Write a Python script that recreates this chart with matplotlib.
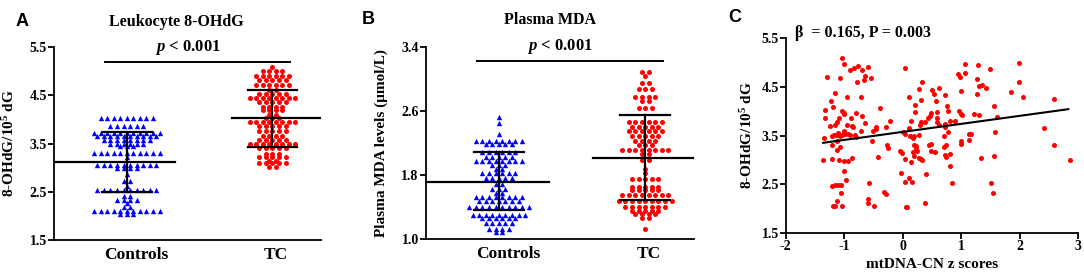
import matplotlib.pyplot as plt
import numpy as np

plt.rcParams['font.family'] = 'Liberation Serif'
plt.rcParams['font.weight'] = 'bold'
plt.rcParams['axes.labelweight'] = 'bold'
plt.rcParams['mathtext.fontset'] = 'custom'
plt.rcParams['mathtext.rm'] = 'Liberation Serif:bold'
plt.rcParams['mathtext.bf'] = 'Liberation Serif:bold'
plt.rcParams['mathtext.it'] = 'Liberation Serif:bold:italic'
plt.rcParams['mathtext.default'] = 'bf'
plt.rcParams['axes.unicode_minus'] = False

groups = ['Controls', 'TC']

# Panel A: leukocyte 8-OHdG, rows of the dot plot (value, count)
a_ctrl_vals = [4.02, 3.86, 3.71, 3.66, 3.57, 3.50, 3.45, 3.30, 3.23, 3.05, 2.99, 2.87,
               2.73, 2.62, 2.54, 2.41, 2.33, 2.27, 2.18, 2.11, 2.04]
a_ctrl_cnts = [9, 6, 11, 10, 8, 6, 3, 11, 1, 10, 4, 1, 2, 1, 10, 2, 4, 1, 2, 11, 3]
a_tc_vals = [5.09, 5.00, 4.89, 4.81, 4.71, 4.60, 4.53, 4.45, 4.36, 4.26, 4.19, 4.09, 4.02,
             3.95, 3.86, 3.76, 3.65, 3.57, 3.49, 3.40, 3.29, 3.22, 3.14, 3.09, 3.02]
a_tc_cnts = [1, 4, 6, 5, 6, 2, 5, 8, 5, 4, 4, 2, 3, 8, 5, 5, 4, 5, 8, 5, 3, 5, 2, 5, 2]
a_mean = [3.12, 4.02]
a_sd_lo = [2.50, 3.42]
a_sd_hi = [3.745, 4.61]

# Panel B: plasma MDA
b_ctrl_vals = [2.52, 2.45, 2.31, 2.23, 2.19, 2.09, 2.03, 1.97, 1.92, 1.88, 1.82, 1.76,
               1.69, 1.63, 1.57, 1.52, 1.48, 1.40, 1.30, 1.26, 1.20, 1.13, 1.09]
b_ctrl_cnts = [1, 1, 1, 8, 5, 6, 5, 8, 3, 2, 6, 5, 2, 3, 2, 8, 7, 10, 9, 6, 5, 4, 2]
b_tc_vals = [3.09, 3.04, 2.945, 2.875, 2.78, 2.72, 2.64, 2.46, 2.40, 2.35, 2.29, 2.225,
             2.17, 2.11, 2.06, 1.99, 1.88, 1.83, 1.75, 1.655, 1.61, 1.55, 1.47, 1.40,
             1.35, 1.31, 1.26, 1.125]
b_tc_cnts = [2, 1, 2, 3, 4, 2, 3, 6, 5, 6, 5, 4, 3, 8, 2, 2, 1, 1, 5, 5, 5, 8, 9, 7, 5, 4, 2, 1]
b_mean = [1.717, 2.017]
b_sd_lo = [1.36, 1.49]
b_sd_hi = [2.09, 2.55]

# Panel C: mtDNA-CN z scores vs 8-OHdG
c_x = [-1.04, -1.00, -1.30, -1.07, -0.90, -0.83, -0.76, -0.69, -0.59, -0.645, -0.657, -0.54,
       -0.78, -0.95, -0.71, -1.16, -1.23, -1.19, -1.32, -1.32, -1.24, -1.16, -1.13, -1.09,
       -1.03, -1.00, -1.01, -0.95, -0.885, -0.805, -0.69, -0.645, -0.87, -0.845, -0.90, -0.82,
       -0.79, -0.71, -1.34, -1.215, -1.17, -1.13, -1.10, -1.08, -1.03, -0.99, -1.00, -0.93,
       -1.13, -1.20, -1.12, -1.07, -1.37, -1.215, -1.09, -1.01, -0.94, -0.86, -1.01, -0.975,
       -1.20, -1.15, -1.10, -1.055, -1.055, -1.19, -1.16, -1.13, -1.04, -0.58, -0.59, -0.60,
       -0.49, -0.315, -0.29, -0.395, -0.45, -0.46, -0.50, -0.52, -0.43, -0.28, -0.21, -0.27,
       -0.25, -0.05, -0.02, 0.04, -0.03, 0.04, 0.11, 0.16, 0.05, 0.07, 0.044, 0.11,
       0.21, 0.21, 0.15, 0.17, 0.20, 0.13, 0.04, 0.01, 0.11, 0.20, 0.23, 0.24,
       0.22, 0.17, 0.19, 0.27, 0.31, 0.33, 0.15, 0.31, 0.29, 0.33, 0.28, 0.31,
       0.38, 0.44, 0.47, 0.49, 0.505, 0.53, 0.45, 0.48, 0.49, 0.40, 0.38, 0.28,
       1.06, 1.28, 1.49, 1.99, 0.94, 0.98, 1.06, 1.27, 1.31, 1.35, 1.42, 1.27,
       0.995, 0.72, 0.62, 0.57, 0.76, 0.77, 0.97, 0.995, 1.02, 0.89, 0.81, 0.72,
       0.58, 0.59, 0.58, 0.625, 0.72, 1.21, 1.30, 1.56, 1.61, 1.85, 1.99, 2.06,
       2.58, 2.41, 2.58, 2.86, 1.58, 1.13, 1.17, 1.13, 0.995, 0.995, 0.78, 0.70,
       0.74, 0.70, 0.55, 0.72, 0.74, 0.81, 0.81, 1.33, 1.56, 0.85, 1.51, 1.54]
c_y = [5.09, 4.97, 4.71, 4.67, 4.84, 4.88, 4.93, 4.84, 4.90, 4.73, 4.63, 4.67,
       4.59, 4.30, 4.28, 4.38, 4.21, 4.09, 4.03, 3.86, 3.70, 3.72, 3.77, 3.85,
       4.01, 3.94, 3.97, 3.71, 3.85, 3.96, 3.89, 3.75, 3.70, 3.67, 3.52, 3.52,
       3.47, 3.60, 3.44, 3.48, 3.51, 3.52, 3.55, 3.48, 3.52, 3.53, 3.60, 3.53,
       3.38, 3.30, 3.20, 3.27, 3.00, 3.02, 3.00, 2.98, 2.97, 3.03, 2.78, 2.59,
       2.46, 2.49, 2.49, 2.49, 2.33, 2.06, 2.05, 2.15, 2.06, 2.52, 2.20, 2.11,
       2.05, 2.35, 2.31, 4.06, 3.67, 3.64, 3.60, 3.38, 3.05, 3.67, 3.79, 3.31,
       3.24, 3.19, 3.14, 3.02, 2.73, 2.55, 2.63, 2.55, 2.03, 2.03, 4.88, 4.30,
       4.12, 3.99, 3.79, 3.45, 3.50, 3.50, 3.53, 3.57, 3.65, 3.31, 3.28, 3.19,
       3.23, 3.17, 3.07, 3.04, 3.02, 3.00, 2.96, 3.78, 3.72, 4.59, 4.46, 4.23,
       3.78, 3.86, 3.91, 3.96, 4.43, 4.36, 3.31, 3.19, 3.33, 2.72, 2.12, 3.52,
       4.97, 4.94, 4.86, 4.98, 4.76, 4.71, 4.78, 4.66, 4.515, 4.54, 4.47, 4.35,
       4.41, 4.34, 4.47, 4.21, 4.10, 3.995, 3.995, 3.95, 3.93, 3.80, 3.80, 3.74,
       3.98, 3.86, 3.78, 3.72, 3.67, 3.94, 3.93, 4.10, 3.87, 4.40, 4.59, 4.29,
       4.255, 3.66, 3.31, 3.00, 3.57, 3.54, 3.53, 3.41, 3.39, 3.33, 3.57, 3.48,
       3.31, 3.27, 3.16, 3.11, 3.06, 3.13, 2.87, 3.04, 3.07, 2.52, 2.53, 2.32]
c_fit_x = [-1.36, 2.83]
c_fit_y = [3.35, 4.04]


def swarm(vals, center, dx=0.045):
    # spread points of the same row sideways, centred on the group
    vals = np.asarray(vals)
    xs = np.empty(len(vals))
    for v in np.unique(vals):
        idx = np.where(vals == v)[0]
        n = len(idx)
        xs[idx] = center + (np.arange(n) - (n - 1) / 2) * dx
    return xs


def style_axes(ax):
    for s in ['top', 'right']:
        ax.spines[s].set_visible(False)
    for s in ['left', 'bottom']:
        ax.spines[s].set_linewidth(1.3)
    ax.tick_params(axis='y', direction='out', length=4, width=1.3, labelsize=10, pad=1)


def dot_panel(ax, ctrl, tc, mean, lo, hi, ylim, yticks, ylabel, bracket_y, mean_in):
    ax.scatter(swarm(ctrl, 0), ctrl, marker='^', s=15, color='#0000ff', lw=0, zorder=2)
    ax.scatter(swarm(tc, 1), tc, marker='o', s=13, color='#ff0000', lw=0, zorder=2)
    ax.plot([-0.5, mean_in[0]], [mean[0]] * 2, color='k', lw=1.6, zorder=3)
    ax.plot([mean_in[1], 1.333], [mean[1]] * 2, color='k', lw=1.6, zorder=3)
    for i in range(2):
        ax.plot([i, i], [lo[i], hi[i]], color='k', lw=1.6, zorder=3)
        for yv in (lo[i], hi[i]):
            ax.plot([i - 0.17, i + 0.17], [yv, yv], color='k', lw=1.6, zorder=3)
    ax.plot([-0.15, 1.12], [bracket_y, bracket_y], color='k', lw=1.4, clip_on=False)
    ax.text(0.42, bracket_y + (ylim[1] - ylim[0]) * 0.025, r'$\mathit{p}$ < 0.001', ha='center',
            va='bottom', fontsize=12, fontweight='bold')
    ax.set_xlim(-0.5, 1.333)
    ax.set_ylim(*ylim)
    ax.set_yticks(yticks)
    ax.set_yticklabels(['%.1f' % t for t in yticks])
    ax.set_xticks([0.065, 1.025])
    ax.set_xticklabels(groups, fontsize=12.5)
    ax.tick_params(axis='x', length=0, pad=5)
    ax.set_ylabel(ylabel, fontsize=11)
    ax.yaxis.set_label_coords(-0.14, 0.5)
    style_axes(ax)


fig = plt.figure(figsize=(10.84, 2.76), dpi=100)

ax_a = fig.add_axes([0.0498, 0.1304, 0.2463, 0.6993])
dot_panel(ax_a, np.repeat(a_ctrl_vals, a_ctrl_cnts), np.repeat(a_tc_vals, a_tc_cnts),
          a_mean, a_sd_lo, a_sd_hi, (1.5, 5.5), [1.5, 2.5, 3.5, 4.5, 5.5],
          r'8-OHdG/10$^{5}$ dG', 5.195, (0.33, 0.72))

ax_b = fig.add_axes([0.3927, 0.1341, 0.2475, 0.6957])
dot_panel(ax_b, np.repeat(b_ctrl_vals, b_ctrl_cnts), np.repeat(b_tc_vals, b_tc_cnts),
          b_mean, b_sd_lo, b_sd_hi, (1.0, 3.4), [1.0, 1.8, 2.6, 3.4],
          'Plasma MDA levels (μmol/L)', 3.23, (0.34, 0.64))

ax_c = fig.add_axes([0.7248, 0.1558, 0.2699, 0.7065])
ax_c.scatter(c_x, c_y, s=13, color='#ff0000', lw=0, zorder=2)
ax_c.plot(c_fit_x, c_fit_y, color='k', lw=1.5, zorder=3)
ax_c.set_xlim(-2, 3)
ax_c.set_ylim(1.5, 5.5)
ax_c.set_yticks([1.5, 2.5, 3.5, 4.5, 5.5])
ax_c.set_xticks([-2, -1, 0, 1, 2, 3])
ax_c.tick_params(axis='x', direction='out', length=4, width=1.3, labelsize=10, pad=1)
style_axes(ax_c)
ax_c.set_ylabel(r'8-OHdG/10$^{5}$ dG', fontsize=11)
ax_c.yaxis.set_label_coords(-0.105, 0.5)
ax_c.set_xlabel('mtDNA-CN z scores', fontsize=11, labelpad=4)

# titles, panel letters and stats note
fig.text(0.163, 0.921, 'Leukocyte 8-OHdG', ha='center', va='center', fontsize=11.5)
fig.text(0.507, 0.928, 'Plasma MDA', ha='center', va='center', fontsize=11.5)
fig.text(0.7334, 0.880, 'β  = 0.165, P = 0.003', ha='left', va='center', fontsize=11.5)
for x, y, lab in [(0.020, 0.921, 'A'), (0.3395, 0.928, 'B'), (0.678, 0.935, 'C')]:
    fig.text(x, y, lab, ha='center', va='center', fontsize=13, fontweight='bold',
             family='Liberation Sans')

fig.savefig('out.png', dpi=100)
